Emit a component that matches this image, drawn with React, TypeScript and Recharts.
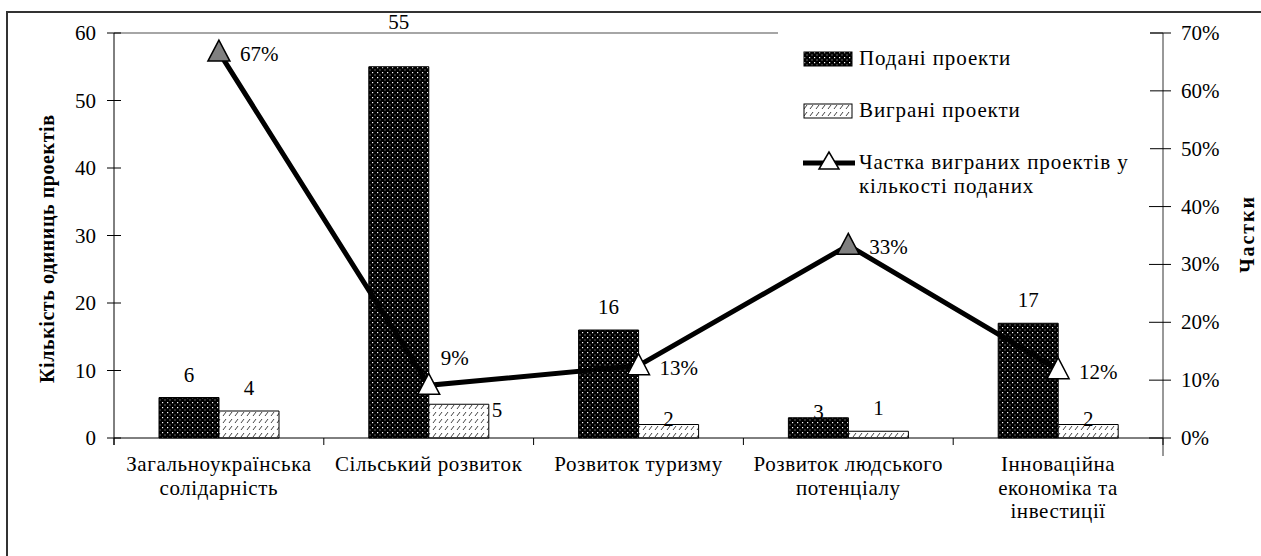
import React from "react"
import { ComposedChart, Bar, Line, XAxis, YAxis, ReferenceLine, LabelList } from "recharts"

const categories = [
  "Загальноукраїнська\nсолідарність",
  "Сільський розвиток",
  "Розвиток туризму",
  "Розвиток людського\nпотенціалу",
  "Інноваційна\nекономіка та\nінвестиції",
]
const submitted = [6, 55, 16, 3, 17]
const won = [4, 5, 2, 1, 2]
const share = [0.667, 0.091, 0.125, 0.333, 0.118]
const shareLabels = ["67%", "9%", "13%", "33%", "12%"]
const countTicks = [0, 10, 20, 30, 40, 50, 60]
const shareTicks = [0, 0.1, 0.2, 0.3, 0.4, 0.5, 0.6, 0.7]

const data = categories.map((category, i) => ({
  category,
  submitted: submitted[i],
  won: won[i],
  share: share[i],
}))

// chart geometry (chart coords = page coords - (6, 11))
const W = 1255
const H = 545
const PL = 108
const PR = 1157
const PT = 22
const PB = 427
const BAND = (PR - PL) / categories.length
const FONT = "'Liberation Serif', Tinos, 'Times New Roman', serif"
const FS = 21

const LeftTick = ({ y, payload }: any) => (
  <g>
    <line x1={PL - 7} x2={PL + 7} y1={y} y2={y} stroke="#000" />
    <text x={PL - 18} y={y} dy={7} textAnchor="end" fontSize={FS} fontFamily={FONT} fill="#000">
      {payload.value}
    </text>
  </g>
)

const RightTick = ({ y, payload }: any) => (
  <g>
    <line x1={PR - 14} x2={PR + 8} y1={y} y2={y} stroke="#000" />
    <text x={PR + 18} y={y} dy={7} textAnchor="start" fontSize={FS} fontFamily={FONT} fill="#000">
      {Math.round(payload.value * 100) + "%"}
    </text>
  </g>
)

const BottomTick = ({ x, payload, index }: any) => {
  const lines = String(payload.value).split("\n")
  return (
    <g>
      <line x1={x - BAND / 2} x2={x - BAND / 2} y1={PB} y2={PB + 7} stroke="#000" />
      {index === categories.length - 1 && (
        <line x1={x + BAND / 2} x2={x + BAND / 2} y1={PB} y2={PB + 7} stroke="#000" />
      )}
      <text textAnchor="middle" fontSize={FS} fontFamily={FONT} fill="#000" letterSpacing={0.6}>
        {lines.map((l, i) => (
          <tspan key={i} x={x} y={PB + 33 + i * 23.5}>
            {l}
          </tspan>
        ))}
      </text>
    </g>
  )
}

// label placement tweaks, as in the source figure
const barLabel = (series: string) => (props: any) => {
  const { x, y, width, value, index } = props
  let tx = x + width / 2
  let ty = y - 16
  let anchor = "middle"
  if (series === "submitted" && index === 1) ty = 18
  if (series === "submitted" && index === 3) ty = y + 1
  if (series === "won" && (index === 2 || index === 4)) ty = y + 1
  if (series === "won" && index === 1) {
    tx = x + width + 3
    ty = y + 13
    anchor = "start"
  }
  return (
    <text x={tx} y={ty} textAnchor={anchor} fontSize={FS} fontFamily={FONT} fill="#000">
      {value}
    </text>
  )
}

const shareLabel = (props: any) => {
  const { x, y, index } = props
  const dx = index === 1 ? 12 : 21
  const dy = index === 1 ? -27 : 2
  return (
    <text x={x + dx} y={y + dy + 7} textAnchor="start" fontSize={FS} fontFamily={FONT} fill="#000">
      {shareLabels[index]}
    </text>
  )
}

const TriangleDot = (props: any) => {
  const { cx, cy, index } = props
  const fill = index === 0 || index === 3 ? "#808080" : "#fff"
  return (
    <polygon
      key={index}
      points={`${cx},${cy - 12} ${cx - 11},${cy + 9} ${cx + 11},${cy + 9}`}
      fill={fill}
      stroke="#000"
      strokeWidth={1.5}
    />
  )
}

const Legend = () => (
  <div
    style={{
      position: "absolute",
      left: 772,
      top: 9,
      width: 372,
      height: 180,
      background: "#fff",
      fontFamily: FONT,
      fontSize: FS,
      letterSpacing: 0.9,
      color: "#000",
      whiteSpace: "nowrap",
    }}
  >
    <div style={{ position: "absolute", left: 25, top: 26, display: "flex", alignItems: "center" }}>
      <svg width={50} height={16}>
        <rect x={1} y={1} width={48} height={14} fill="url(#dots)" stroke="#000" />
      </svg>
      <span style={{ marginLeft: 6 }}>Подані проекти</span>
    </div>
    <div style={{ position: "absolute", left: 25, top: 78, display: "flex", alignItems: "center" }}>
      <svg width={50} height={16}>
        <rect x={1} y={1} width={48} height={14} fill="url(#hatch)" stroke="#000" />
      </svg>
      <span style={{ marginLeft: 6 }}>Виграні проекти</span>
    </div>
    <div style={{ position: "absolute", left: 25, top: 130, display: "flex", alignItems: "flex-start" }}>
      <svg width={52} height={24}>
        <line x1={0} x2={52} y1={13} y2={13} stroke="#000" strokeWidth={5} />
        <polygon points="26,2 16,19 36,19" fill="#fff" stroke="#000" strokeWidth={1.5} />
      </svg>
      <span style={{ marginLeft: 4, lineHeight: "24px" }}>
        Частка виграних проектів у
        <br />
        кількості поданих
      </span>
    </div>
  </div>
)

export default function App() {
  return (
    <div
      style={{
        position: "absolute",
        left: 6,
        top: 11,
        width: W,
        height: H,
        background: "#fff",
      }}
    >
      <ComposedChart
        width={W}
        height={H}
        data={data}
        margin={{ top: PT, right: 0, left: 0, bottom: 0 }}
        barGap={0}
        barCategoryGap={45}
      >
        <defs>
          <pattern id="dots" width={5} height={5} patternUnits="userSpaceOnUse">
            <rect width={5} height={5} fill="#000" />
            <rect x={1} y={1} width={1.2} height={1.2} fill="#fff" />
            <rect x={3.5} y={3.5} width={1} height={1} fill="#bbb" />
          </pattern>
          <pattern id="hatch" width={6} height={7} patternUnits="userSpaceOnUse">
            <rect width={6} height={7} fill="#fff" />
            <line x1={1} y1={6} x2={4} y2={2} stroke="#444" strokeWidth={1} />
          </pattern>
        </defs>
        <XAxis
          dataKey="category"
          height={H - PB}
          interval={0}
          tickLine={false}
          axisLine={{ stroke: "#000" }}
          tick={<BottomTick />}
        />
        <YAxis
          yAxisId="left"
          orientation="left"
          width={PL}
          domain={[0, 60]}
          ticks={countTicks}
          tickLine={false}
          axisLine={{ stroke: "#000" }}
          tick={<LeftTick />}
        />
        <YAxis
          yAxisId="right"
          orientation="right"
          width={W - PR}
          domain={[0, 0.7]}
          ticks={shareTicks}
          tickLine={false}
          axisLine={{ stroke: "#333" }}
          tick={<RightTick />}
        />
        <ReferenceLine yAxisId="left" y={60} stroke="#888" strokeWidth={1.5} />
        <line x1={PR} x2={PR} y1={PB} y2={PB + 18} stroke="#333" />
        <line x1={PL} x2={PL} y1={PB} y2={PB + 7} stroke="#000" />
        <Bar
          yAxisId="left"
          dataKey="submitted"
          barSize={60}
          fill="url(#dots)"
          stroke="#000"
          strokeWidth={1}
          isAnimationActive={false}
        >
          <LabelList dataKey="submitted" content={barLabel("submitted")} />
        </Bar>
        <Bar
          yAxisId="left"
          dataKey="won"
          barSize={60}
          fill="url(#hatch)"
          stroke="#000"
          strokeWidth={1}
          isAnimationActive={false}
        >
          <LabelList dataKey="won" content={barLabel("won")} />
        </Bar>
        <Line
          yAxisId="right"
          dataKey="share"
          stroke="#000"
          strokeWidth={5}
          dot={<TriangleDot />}
          activeDot={false}
          isAnimationActive={false}
        >
          <LabelList dataKey="share" content={shareLabel} />
        </Line>
        <text
          x={41}
          y={238}
          transform="rotate(-90 41 238)"
          textAnchor="middle"
          dominantBaseline="central"
          fontFamily={FONT}
          fontSize={20}
          fontWeight="bold"
          textLength={268}
          lengthAdjust="spacing"
          fill="#000"
        >
          Кількість одиниць проектів
        </text>
        <text
          x={1241}
          y={224}
          transform="rotate(-90 1241 224)"
          textAnchor="middle"
          dominantBaseline="central"
          fontFamily={FONT}
          fontSize={20}
          fontWeight="bold"
          textLength={76}
          lengthAdjust="spacing"
          fill="#000"
        >
          Частки
        </text>
      </ComposedChart>
      <Legend />
      <div
        style={{
          position: "absolute",
          left: 0,
          top: 0,
          width: W,
          height: H,
          borderTop: "2px solid #333",
          borderLeft: "2px solid #333",
          boxSizing: "border-box",
          pointerEvents: "none",
        }}
      />
    </div>
  )
}
